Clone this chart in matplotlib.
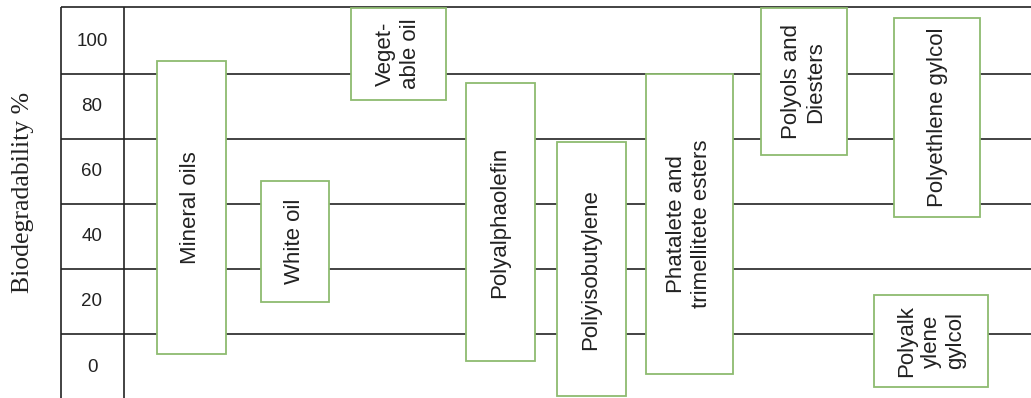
import numpy as np
import matplotlib.pyplot as plt

# biodegradability ranges (%)
labels = ['Mineral oils', 'White oil', 'Veget-\nable oil', 'Polyalphaolefin',
          'Poliyisobutylene', 'Phatalete and\ntrimellitete esters',
          'Polyols and\nDiesters', 'Polyethlene gylcol', 'Polyalk\nylene\ngylcol']
low = [4, 20, 82, 2, -9, -2, 65, 46, -6]
high = [94, 57, 110, 87, 69, 90, 110, 107, 22]
ticks = [100, 80, 60, 40, 20, 0]

# layout of the boxes (horizontal position and width)
xpos = [191, 295, 398, 500, 591, 689, 804, 937, 931]
widths = [69, 68, 95, 69, 69, 87, 86, 86, 114]

green = '#8dbb6f'
plt.rcParams['font.family'] = ['Liberation Sans', 'DejaVu Sans']

fig = plt.figure(figsize=(10.31, 3.98), dpi=100)
ax = fig.add_axes([0, 0, 1, 1])
ax.set_xlim(0, 1031)
ax.set_ylim(-9.5, 112.6)
ax.axis('off')

# grid of the "table"
for t in ticks[1:]:
    ax.hlines(t + 10, 61, 1031, color='#222222', lw=1.2, zorder=1)
ax.hlines(110.5, 61, 1031, color='#222222', lw=1.2, zorder=1)
ax.vlines([61, 124], -12, 110.5, color='#222222', lw=1.2, zorder=1)

for t in ticks:
    ax.text(92, t, str(t), ha='center', va='center', fontsize=13.5, color='#222222')

ax.text(23, 53.5, 'Biodegradability %', rotation=90, ha='center', va='center',
        fontsize=18.5, family=['Liberation Serif', 'DejaVu Serif'], color='#222222')

lo = np.array(low)
hi = np.array(high)
ax.bar(xpos, hi - lo, bottom=lo, width=widths, color='white',
       edgecolor=green, linewidth=1.3, zorder=3)

for x, a, b, lab in zip(xpos, low, high, labels):
    ax.text(x, (a + b) / 2, lab, rotation=90, ha='center', va='center',
            multialignment='center', fontsize=16, color='#222222', zorder=4,
            linespacing=1.2)

fig.savefig('out.png', dpi=100)
